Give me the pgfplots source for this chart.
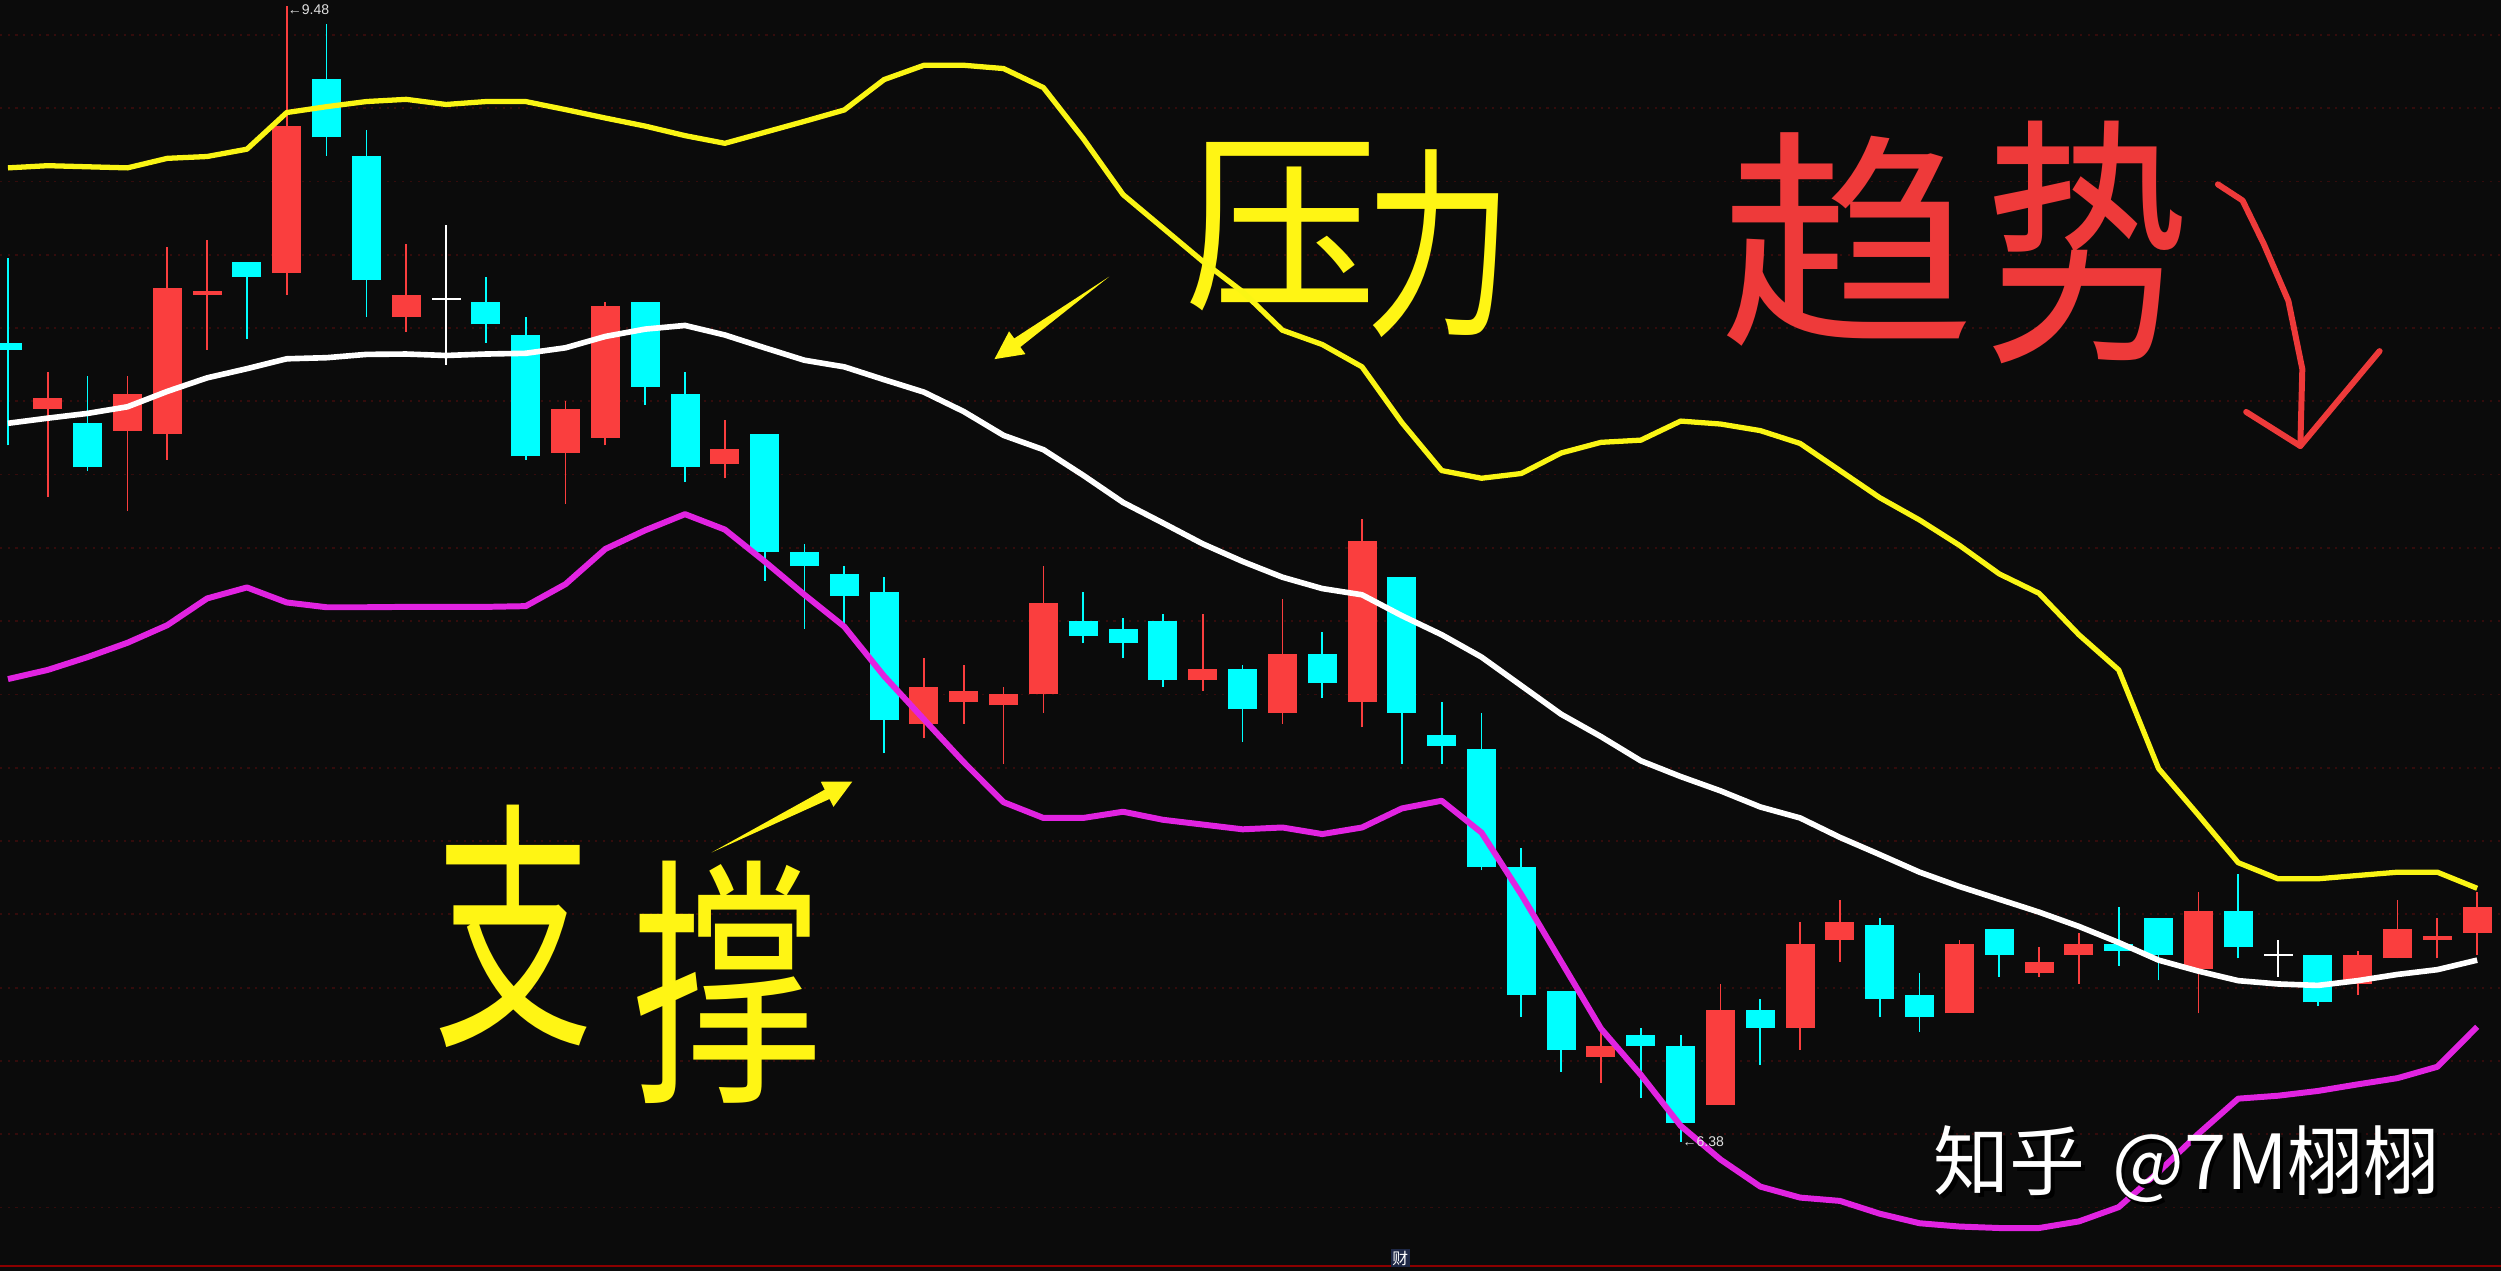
\documentclass[border=0pt]{standalone}
\usepackage{pgfplots}
\pgfplotsset{compat=1.18}
\usepackage{pgfplotstable}
\usepackage{fontspec}
\usepackage{pdfrender}
\usetikzlibrary{calc}
\newfontfamily\cjk{Noto Sans CJK SC}
\newfontfamily\labelfont{Liberation Sans}

\definecolor{bg}{RGB}{11,11,11}
\definecolor{candred}{RGB}{250,62,62}
\definecolor{candcyan}{RGB}{0,255,255}
\definecolor{bollyellow}{RGB}{250,245,20}
\definecolor{bollmag}{RGB}{225,35,225}
\definecolor{gridred}{RGB}{52,12,12}
\definecolor{annyellow}{RGB}{255,245,20}
\definecolor{annred}{RGB}{238,58,58}
\definecolor{tagblue}{RGB}{30,40,70}

% thinner "hand-written" strokes: glyph outline eaten by a background-coloured stroke
\newcommand\thin[2]{\textpdfrender{TextRenderingMode=FillStroke, LineWidth=#1, StrokeColor=bg}{#2}}

% rising candles (red): index, open, high, low, close
\pgfplotstableread{
x o h l c
1 8.38 8.48 8.14 8.41
3 8.32 8.47 8.10 8.42
4 8.31 8.82 8.24 8.71
5 8.69 8.84 8.54 8.70
7 8.75 9.48 8.69 9.15
10 8.63 8.83 8.59 8.69
14 8.26 8.40 8.12 8.38
15 8.30 8.67 8.28 8.66
18 8.23 8.35 8.19 8.27
23 7.52 7.70 7.48 7.62
24 7.58 7.68 7.52 7.61
25 7.57 7.62 7.41 7.60
26 7.60 7.95 7.55 7.85
30 7.64 7.82 7.61 7.67
32 7.55 7.86 7.52 7.71
34 7.58 8.08 7.51 8.02
40 6.61 6.69 6.54 6.64
43 6.48 6.81 6.48 6.74
45 6.69 6.98 6.63 6.92
46 6.93 7.04 6.87 6.98
49 6.73 6.93 6.73 6.92
51 6.84 6.91 6.83 6.87
52 6.89 6.95 6.81 6.92
55 6.85 7.06 6.73 7.01
59 6.81 6.90 6.78 6.89
60 6.88 7.04 6.88 6.96
61 6.93 6.99 6.88 6.94
62 6.95 7.06 6.89 7.02
}\upk

% falling candles (cyan)
\pgfplotstableread{
x o h l c
0 8.56 8.79 8.28 8.54
2 8.34 8.47 8.21 8.22
6 8.78 8.78 8.57 8.74
8 9.28 9.43 9.07 9.12
9 9.07 9.14 8.63 8.73
12 8.67 8.74 8.56 8.61
13 8.58 8.63 8.24 8.25
16 8.67 8.67 8.39 8.44
17 8.42 8.48 8.18 8.22
19 8.31 8.31 7.91 7.99
20 7.99 8.01 7.78 7.95
21 7.93 7.95 7.79 7.87
22 7.88 7.92 7.44 7.53
27 7.80 7.88 7.74 7.76
28 7.78 7.81 7.70 7.74
29 7.80 7.82 7.62 7.64
31 7.67 7.68 7.47 7.56
33 7.71 7.77 7.59 7.63
35 7.92 7.92 7.41 7.55
36 7.49 7.58 7.41 7.46
37 7.45 7.55 7.12 7.13
38 7.13 7.18 6.72 6.78
39 6.79 6.79 6.57 6.63
41 6.67 6.69 6.50 6.64
42 6.64 6.67 6.38 6.43
44 6.74 6.77 6.59 6.69
47 6.97 6.99 6.72 6.77
48 6.78 6.84 6.68 6.72
50 6.96 6.96 6.83 6.89
53 6.92 7.02 6.86 6.90
54 6.99 6.99 6.82 6.89
56 7.01 7.11 6.88 6.91
58 6.89 6.89 6.75 6.76
}\downk

% flat candles (white cross)
\pgfplotstableread{
x o h l c
11 8.68 8.88 8.50 8.68
57 6.89 6.93 6.83 6.89
}\flatk

% bollinger bands: upper, middle, lower
\pgfplotstableread{
x up mid lo
0 9.037 8.340 7.642
1 9.043 8.354 7.667
2 9.040 8.367 7.702
3 9.037 8.385 7.741
4 9.063 8.427 7.789
5 9.068 8.464 7.862
6 9.088 8.489 7.892
7 9.188 8.516 7.851
8 9.204 8.519 7.838
9 9.218 8.528 7.838
10 9.224 8.529 7.839
11 9.210 8.525 7.839
12 9.218 8.529 7.839
13 9.218 8.531 7.841
14 9.196 8.546 7.901
15 9.173 8.577 7.997
16 9.151 8.597 8.048
17 9.125 8.607 8.092
18 9.104 8.581 8.050
19 9.134 8.546 7.963
20 9.164 8.512 7.872
21 9.195 8.494 7.785
22 9.278 8.459 7.650
23 9.317 8.425 7.532
24 9.317 8.372 7.415
25 9.308 8.307 7.306
26 9.256 8.268 7.263
27 9.117 8.198 7.263
28 8.964 8.124 7.280
29 8.873 8.068 7.258
30 8.782 8.011 7.245
31 8.699 7.963 7.232
32 8.594 7.920 7.237
33 8.555 7.889 7.219
34 8.494 7.872 7.237
35 8.342 7.815 7.289
36 8.211 7.763 7.310
37 8.190 7.702 7.223
38 8.203 7.624 7.054
39 8.259 7.546 6.871
40 8.288 7.485 6.688
41 8.294 7.419 6.562
42 8.346 7.376 6.423
43 8.338 7.337 6.331
44 8.320 7.293 6.257
45 8.285 7.263 6.227
46 8.211 7.210 6.218
47 8.137 7.163 6.183
48 8.076 7.115 6.157
49 8.007 7.076 6.148
50 7.929 7.041 6.144
51 7.876 7.006 6.144
52 7.763 6.967 6.162
53 7.667 6.923 6.201
54 7.398 6.875 6.297
55 7.271 6.845 6.401
56 7.141 6.819 6.497
57 7.097 6.810 6.505
58 7.097 6.806 6.518
59 7.106 6.819 6.536
60 7.115 6.836 6.553
61 7.115 6.849 6.584
62 7.071 6.875 6.693
}\boll

\begin{document}
\begin{tikzpicture}
\fill[bg] (0,0) rectangle (250.1mm,127.1mm);
\begin{axis}[
    at={(0,0)}, anchor=south west,
    scale only axis, width=250.1mm, height=127.1mm,
    xmin=-0.2, xmax=62.6, ymin=6.0267, ymax=9.4952,
    clip=false, hide axis,
    wick/.style={draw=none, no markers, forget plot,
        error bars/.cd, y dir=plus, y explicit, error mark=none,
        error bar style={draw=#1, solid, line width=0.5pt}},
    body/.style={draw=none, no markers, forget plot,
        error bars/.cd, y dir=plus, y explicit, error mark=none,
        error bar style={draw=#1, solid, line width=2.9mm}},
]
% faint dotted price grid, every 0.20
\pgfplotsinvokeforeach{6.2,6.4,...,9.4}{
  \draw[gridred, line width=0.5pt, dash pattern=on 0.6pt off 1.6pt] (axis cs:-0.2,#1) -- (axis cs:62.6,#1);
}
% wicks
\addplot[wick=candred] table[x=x, y=l, y error expr=\thisrow{h}-\thisrow{l}] {\upk};
\addplot[wick=candcyan] table[x=x, y=l, y error expr=\thisrow{h}-\thisrow{l}] {\downk};
\addplot[wick=white] table[x=x, y=l, y error expr=\thisrow{h}-\thisrow{l}] {\flatk};
% bodies
\addplot[body=candred] table[x=x, y=o, y error expr=\thisrow{c}-\thisrow{o}] {\upk};
\addplot[body=candcyan] table[x=x, y=c, y error expr=\thisrow{o}-\thisrow{c}] {\downk};
\addplot[only marks, mark=-, mark size=1.45mm, mark options={draw=white, line width=0.5pt}, forget plot] table[x=x, y=o] {\flatk};

% hand-written notes (under the bands, as they are crossed by them)
\node[inner sep=0, text=annyellow, font=\cjk\fontsize{55}{55}\selectfont] at (axis cs:31.96,8.877) {\thin{2pt}{压}};
\node[inner sep=0, text=annyellow, xscale=0.72, font=\cjk\fontsize{58}{58}\selectfont] at (axis cs:35.92,8.829) {\thin{2pt}{力}};
\node[inner sep=0, text=annyellow, xscale=0.6, font=\cjk\fontsize{75}{75}\selectfont] at (axis cs:12.70,6.967) {\thin{3pt}{支}};
\node[inner sep=0, text=annyellow, xscale=0.72, font=\cjk\fontsize{75}{75}\selectfont] at (axis cs:18.06,6.814) {\thin{3pt}{撑}};
\node[inner sep=0, text=annred, xscale=1.1, font=\cjk\fontsize{66}{66}\selectfont] at (axis cs:46.18,8.842) {\thin{2.6pt}{趋}};
\node[inner sep=0, text=annred, xscale=0.78, font=\cjk\fontsize{75}{75}\selectfont] at (axis cs:52.22,8.834) {\thin{3pt}{势}};

% bollinger bands
\addplot[bollyellow, line width=1.5pt, line join=round, no marks] table[x=x, y=up] {\boll};
\addplot[white, line width=1.6pt, line join=round, no marks] table[x=x, y=mid] {\boll};
\addplot[bollmag, line width=1.7pt, line join=round, no marks] table[x=x, y=lo] {\boll};

% high / low tags
\node[anchor=west, inner sep=0, text=white!88!black, font=\labelfont\fontsize{4}{4}\selectfont] at (axis cs:7.01,9.468) {←9.48};
\node[anchor=west, inner sep=0, text=white!88!black, font=\labelfont\fontsize{4}{4}\selectfont] at (axis cs:42.03,6.380) {←6.38};

% bottom border and tag
\draw[red!55!black, line width=0.5pt] (axis cs:-0.2,6.040) -- (axis cs:62.6,6.040);
\node[fill=tagblue, inner sep=0.4pt, text=white, font=\cjk\fontsize{4.5}{4.5}\selectfont] at (axis cs:34.96,6.062) {财};

\draw[annred, line width=1.7pt, line cap=round, line join=round]
  (axis cs:55.49,8.992) -- (axis cs:56.11,8.948) -- (axis cs:56.64,8.830)
  -- (axis cs:57.26,8.674) -- (axis cs:57.61,8.488) -- (axis cs:57.56,8.278);
\draw[annred, line width=1.7pt, line cap=round, line join=round]
  (axis cs:56.20,8.371) -- (axis cs:57.56,8.278) -- (axis cs:59.55,8.537);

% watermark
\node[text=black, font=\cjk\fontsize{21.6}{21.6}\selectfont] at ([xshift=0.35mm, yshift=-0.35mm]axis cs:54.71,6.318) {知乎\hspace{0.35em}@7M栩栩};
\node[text=white, font=\cjk\fontsize{21.6}{21.6}\selectfont] at (axis cs:54.71,6.318) {知乎\hspace{0.35em}@7M栩栩};

\coordinate (ta) at (axis cs:27.65,8.740);
\coordinate (ha) at (axis cs:24.77,8.515);
\coordinate (tb) at (axis cs:17.67,7.169);
\coordinate (hb) at (axis cs:21.20,7.362);
\end{axis}

% tapered arrows
\foreach \t/\h in {ta/ha, tb/hb} {
  \coordinate (B) at ($(\h)!8pt!(\t)$);
  \fill[annyellow] (\t) -- ($(B)!1.5pt!90:(\h)$) -- ($(B)!4pt!90:(\h)$) -- (\h)
     -- ($(B)!4pt!-90:(\h)$) -- ($(B)!1.5pt!-90:(\h)$) -- cycle;
}

\pgfresetboundingbox
\path[use as bounding box] (0,0) rectangle (250.1mm,127.1mm);
\end{tikzpicture}
\end{document}
